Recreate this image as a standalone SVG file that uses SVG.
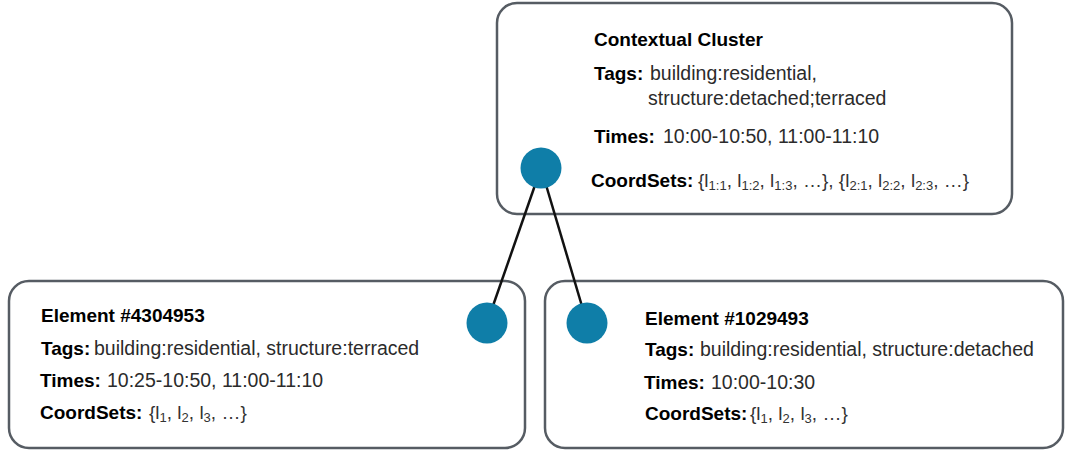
<svg xmlns="http://www.w3.org/2000/svg" width="1067" height="450" viewBox="0 0 1067 450">
<style>
.box{fill:#fff;stroke:#565c63;stroke-width:2.5}
.dot{fill:#0f7ea8}
.edge{stroke:#111;stroke-width:2.5;fill:none}
text{font-family:"Liberation Sans",Arial,sans-serif;font-size:19.5px;fill:#2b2b2b}
.b{font-weight:bold;fill:#000;font-size:19px}
.v{fill:#2b2b2b}
.c{font-size:19px;fill:#333}
.s{font-size:13px}
</style>
<rect width="1067" height="450" fill="#fff"/>
<g id="cluster">
<rect class="box" x="497" y="3" width="515" height="211" rx="20"/>
<text class="b" x="594" y="46">Contextual Cluster</text>
<text x="594" y="80"><tspan class="b">Tags:</tspan><tspan class="v" x="650">building:residential,</tspan></text>
<text class="v" x="648" y="105">structure:detached;terraced</text>
<text x="594" y="143"><tspan class="b">Times:</tspan><tspan class="v" x="663">10:00-10:50, 11:00-11:10</tspan></text>
<text x="591" y="187"><tspan class="b">CoordSets:</tspan><tspan class="c" x="698">{l</tspan><tspan class="c s" dy="3">1:1</tspan><tspan class="c" dy="-3">, l</tspan><tspan class="c s" dy="3">1:2</tspan><tspan class="c" dy="-3">, l</tspan><tspan class="c s" dy="3">1:3</tspan><tspan class="c" dy="-3">, …}, {l</tspan><tspan class="c s" dy="3">2:1</tspan><tspan class="c" dy="-3">, l</tspan><tspan class="c s" dy="3">2:2</tspan><tspan class="c" dy="-3">, l</tspan><tspan class="c s" dy="3">2:3</tspan><tspan class="c" dy="-3">, …}</tspan></text>
</g>
<g id="element-4304953">
<rect class="box" x="9" y="281" width="516" height="167" rx="20"/>
<text class="b" x="41" y="322">Element #4304953</text>
<text x="41" y="355"><tspan class="b">Tags:</tspan><tspan class="v" x="94">building:residential, structure:terraced</tspan></text>
<text x="40" y="387"><tspan class="b">Times:</tspan><tspan class="v" x="107">10:25-10:50, 11:00-11:10</tspan></text>
<text x="40" y="419"><tspan class="b">CoordSets:</tspan><tspan class="c" x="149">{l</tspan><tspan class="c s" dy="3">1</tspan><tspan class="c" dy="-3">, l</tspan><tspan class="c s" dy="3">2</tspan><tspan class="c" dy="-3">, l</tspan><tspan class="c s" dy="3">3</tspan><tspan class="c" dy="-3">, …}</tspan></text>
</g>
<g id="element-1029493">
<rect class="box" x="545" y="281" width="518" height="167" rx="20"/>
<text class="b" x="645" y="325">Element #1029493</text>
<text x="645" y="356"><tspan class="b">Tags:</tspan><tspan class="v" x="700">building:residential, structure:detached</tspan></text>
<text x="644" y="389"><tspan class="b">Times:</tspan><tspan class="v" x="711">10:00-10:30</tspan></text>
<text x="645" y="420"><tspan class="b">CoordSets:</tspan><tspan class="c" x="750">{l</tspan><tspan class="c s" dy="3">1</tspan><tspan class="c" dy="-3">, l</tspan><tspan class="c s" dy="3">2</tspan><tspan class="c" dy="-3">, l</tspan><tspan class="c s" dy="3">3</tspan><tspan class="c" dy="-3">, …}</tspan></text>
</g>
<g id="connectors">
<line class="edge" x1="541" y1="168" x2="487" y2="323"/>
<line class="edge" x1="541" y1="168" x2="587" y2="323"/>
</g>
<g id="dots">
<circle class="dot" cx="541" cy="168" r="20.5"/>
<circle class="dot" cx="487" cy="323" r="20.5"/>
<circle class="dot" cx="587" cy="323" r="20.5"/>
</g>
</svg>
